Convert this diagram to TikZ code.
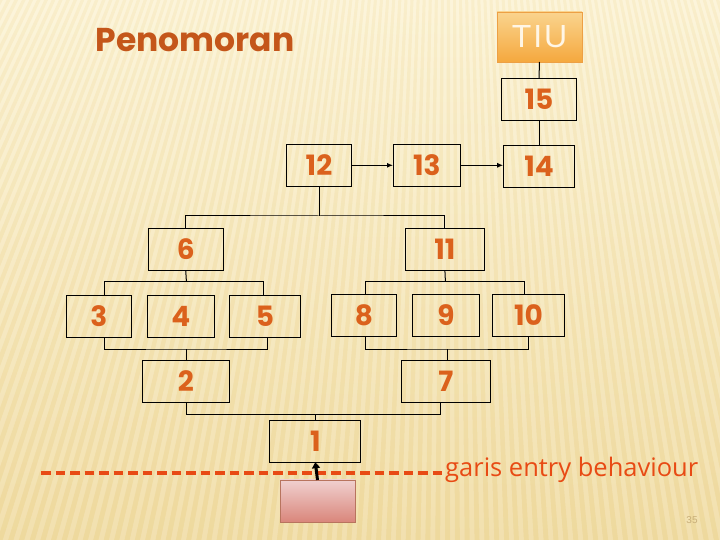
\documentclass[tikz,border=0pt]{standalone}
\usepackage{fontspec}
\setmainfont{Liberation Sans}
\newfontfamily\numfont{Poppins}
\newfontfamily\garisfont{Open Sans}
\usetikzlibrary{arrows.meta,calc}
\definecolor{bgtop}{HTML}{FCF3D4}
\definecolor{bgbot}{HTML}{F0DBA0}
\definecolor{numcol}{HTML}{DB611C}
\definecolor{titcol}{HTML}{C4561A}
\definecolor{garcol}{HTML}{E84A14}
\definecolor{tiutop}{HTML}{FAD48E}
\definecolor{tiubot}{HTML}{F5A83E}
\definecolor{tiuline}{HTML}{EDA045}
\definecolor{tiutext}{HTML}{FFF6E6}
\definecolor{pinktop}{HTML}{F0D0CF}
\definecolor{pinkbot}{HTML}{D9857A}
\definecolor{pinkline}{HTML}{B8745E}
\definecolor{pgcol}{HTML}{C8AE78}
\definecolor{stripe}{HTML}{E6CC8A}
\begin{document}
\begin{tikzpicture}[x=1pt,y=-1pt,
  bx/.style={draw=black, line width=1pt, inner sep=0pt, outer sep=0pt,
    minimum height=42pt, text=numcol,
    font=\numfont\bfseries\fontsize{28}{28}\selectfont},
  tree/.style={draw=black, line width=1pt},
  arr/.style={draw=black, line width=1.2pt, -{Latex[length=6pt,width=5pt]}},
]
\useasboundingbox (0,0) rectangle (720,540);
% background
\begin{scope}
\clip (0,0) rectangle (720,540);
\shade[top color=bgtop, bottom color=bgbot] (0,0) rectangle (720,540);
\foreach \a in {-30,-29.6,...,20}{
  \fill[white, opacity=0.16] (450,-870) -- ({450+2000*sin(\a)},{-870+2000*cos(\a)}) -- ({450+2000*sin(\a+0.2)},{-870+2000*cos(\a+0.2)}) -- cycle;
  \fill[stripe, opacity=0.12] (450,-870) -- ({450+2000*sin(\a+0.2)},{-870+2000*cos(\a+0.2)}) -- ({450+2000*sin(\a+0.4)},{-870+2000*cos(\a+0.4)}) -- cycle;
}
\end{scope}

% title
\node[font=\numfont\bfseries\fontsize{33}{33}\selectfont, text=titcol] (title) at (195,40) {Penomoran};

% TIU
\node[draw=tiuline, line width=0.8pt, top color=tiutop, bottom color=tiubot,
  minimum width=85pt, minimum height=50pt, inner sep=0pt, outer sep=0pt,
  text=tiutext, font=\fontsize{32}{32}\selectfont\addfontfeatures{LetterSpace=6}] (tiu) at (539.5,37) {TIU};

% boxes
\node[bx, minimum width=75pt] (n15) at (539,99.3) {15};
\node[bx, minimum width=65.5pt] (n12) at (319,165.3) {12};
\node[bx, minimum width=67.5pt] (n13) at (426.8,165.3) {13};
\node[bx, minimum width=71.6pt] (n14) at (539,166.5) {14};
\node[bx, minimum width=75pt] (n6) at (185.7,249.3) {6};
\node[bx, minimum width=79pt] (n11) at (444.9,249.3) {11};
\node[bx, minimum width=65pt] (n3) at (98.9,316.3) {3};
\node[bx, minimum width=66.8pt] (n4) at (180.9,316.3) {4};
\node[bx, minimum width=71pt] (n5) at (264.9,316.3) {5};
\node[bx, minimum width=65pt] (n8) at (363.9,315.3) {8};
\node[bx, minimum width=66.8pt] (n9) at (445.9,315.3) {9};
\node[bx, minimum width=71.8pt] (n10) at (528.4,315.3) {10};
\node[bx, minimum width=86.8pt] (n2) at (185.9,381.3) {2};
\node[bx, minimum width=89pt] (n7) at (445.9,381.3) {7};
\node[bx, minimum width=90.7pt] (n1) at (315.3,441.2) {1};
\node[draw=pinkline, line width=0.8pt, top color=pinktop, bottom color=pinkbot,
  minimum width=75pt, minimum height=42.7pt, inner sep=0pt, outer sep=0pt] (pink) at (317.5,501.3) {};

% junctions
\coordinate (j1) at (319,216);
\coordinate (j2) at (186.4,281.3);
\coordinate (j3) at (445.4,281.3);
\coordinate (j4) at (186.4,349);
\coordinate (j5) at (447.9,349);
\coordinate (j6) at (315.4,414.3);

% connectors
\draw[tree] (tiu.south) -- (n15.north);
\draw[tree] (n15.south) -- (n14.north);
\draw[arr] (n12.east) -- (n13.west);
\draw[arr] (n13.east) -- (n13.east -| n14.west);
\draw[tree] (n12.south) -- (j1);
\draw[tree] (n6.north) |- (j1) -| (n11.north);
\draw[tree] (n6.south) -- (j2);
\draw[tree] ([xshift=5.4pt]n3.north) |- (j2) -| ([xshift=-1.7pt]n5.north);
\draw[tree] (n11.south) -- (j3);
\draw[tree] ([xshift=1.8pt]n8.north) |- (j3) -| ([xshift=-4.1pt]n10.north);
\draw[tree] ([xshift=5.4pt]n3.south) |- (j4) -| ([xshift=2.6pt]n5.south);
\draw[tree] (j4) -- (j4 |- n2.north);
\draw[tree] ([xshift=1.8pt]n8.south) |- (j5) -| ([xshift=0.2pt]n10.south);
\draw[tree] (j5) -- (j5 |- n7.north);
\draw[tree] ([xshift=0.5pt]n2.south) |- (j6) -| ([xshift=-5.2pt]n7.south);
\draw[tree] (j6) -- (j6 |- n1.north);

% entry behaviour line
\node[anchor=west, inner sep=0pt, text=garcol, font=\garisfont\fontsize{25.5}{25.5}\selectfont] (garis) at (445,470) {garis entry behaviour};
\coordinate (dstart) at (41,473);
\draw[garcol, line width=3.4pt, dash pattern=on 9.5pt off 5pt] (dstart) -- (dstart -| garis.west);
\draw[black, line width=3pt, -{Triangle[length=6pt,width=8pt]}] (pink.north) -- (n1.south);

% page number
\node[text=pgcol, font=\fontsize{10}{10}\selectfont] (pg) at (692,520) {35};
\end{tikzpicture}
\end{document}
